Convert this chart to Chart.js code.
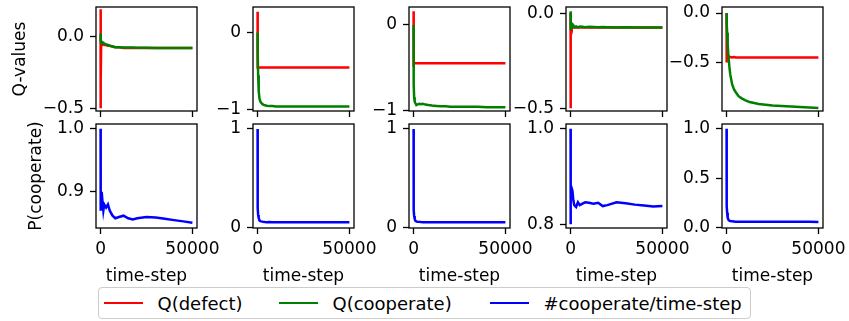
<!DOCTYPE html>
<html>
<head>
<meta charset="utf-8">
<script src="https://cdn.jsdelivr.net/npm/chart.js@4.4.1/dist/chart.umd.min.js"></script>
<style>
body { margin: 0; background: #fff; width: 849px; height: 321px; overflow: hidden; position: relative; font-family: "DejaVu Sans"; }
.panel { position: absolute; }
#legend { position: absolute; left: 98px; top: 287px; width: 653px; height: 32px; box-sizing: border-box;
  border: 1px solid #cccccc; border-radius: 4px; font: 18px "DejaVu Sans"; color: #000; background: #fff; white-space: nowrap; }
#legend .item { position: absolute; top: 0; height: 30px; display: flex; align-items: center; }
#legend .swatch { width: 39px; height: 2.5px; margin-right: 14.5px; flex-shrink: 0; }
</style>
</head>
<body>
<div id="legend"></div>
<script>
// time axis shared by every run
var timeSteps = [0, 20, 40, 60, 100, 300, 600, 1000, 1500, 2000, 3000, 4000, 5000, 6500, 8000, 10000, 12500, 15000, 17500, 20000, 25000, 30000, 35000, 40000, 45000, 50000];

// Q-values, one pair per run
var qDefect1 = [0.0, 0.19, -0.5, 0.12, -0.3, -0.06, -0.05, -0.045, -0.055, -0.06, -0.06, -0.065, -0.065, -0.07, -0.075, -0.075, -0.08, -0.08, -0.08, -0.08, -0.08, -0.08, -0.08, -0.08, -0.08, -0.08];
var qCoop1 = [0.0, 0.02, 0.01, -0.01, -0.03, -0.045, -0.04, -0.05, -0.045, -0.05, -0.055, -0.06, -0.065, -0.07, -0.075, -0.075, -0.077, -0.078, -0.078, -0.079, -0.079, -0.08, -0.08, -0.08, -0.08, -0.08];
var qDefect2 = [0.27, 0.1, -0.46, -0.44, -0.45, -0.45, -0.45, -0.45, -0.45, -0.45, -0.45, -0.45, -0.45, -0.45, -0.45, -0.45, -0.45, -0.45, -0.45, -0.45, -0.45, -0.45, -0.45, -0.45, -0.45, -0.45];
var qCoop2 = [0.0, -0.05, -0.1, -0.15, -0.25, -0.55, -0.75, -0.85, -0.89, -0.91, -0.93, -0.94, -0.945, -0.95, -0.95, -0.955, -0.955, -0.955, -0.955, -0.955, -0.955, -0.955, -0.955, -0.955, -0.955, -0.955];
var qDefect3 = [0.16, -0.2, -0.49, -0.44, -0.45, -0.45, -0.445, -0.45, -0.45, -0.45, -0.45, -0.45, -0.45, -0.45, -0.45, -0.45, -0.45, -0.45, -0.45, -0.45, -0.45, -0.45, -0.45, -0.45, -0.45, -0.45];
var qCoop3 = [0.0, -0.2, -0.4, -0.55, -0.7, -0.85, -0.9, -0.92, -0.94, -0.935, -0.925, -0.93, -0.925, -0.935, -0.94, -0.945, -0.95, -0.955, -0.955, -0.96, -0.96, -0.96, -0.96, -0.965, -0.965, -0.965];
var qDefect4 = [0.0, -0.5, -0.35, -0.15, -0.08, -0.06, -0.07, -0.075, -0.07, -0.075, -0.075, -0.075, -0.075, -0.075, -0.075, -0.075, -0.075, -0.075, -0.075, -0.075, -0.075, -0.075, -0.075, -0.075, -0.075, -0.075];
var qCoop4 = [0.0, 0.01, -0.02, -0.05, -0.09, -0.06, -0.05, -0.07, -0.065, -0.075, -0.07, -0.075, -0.07, -0.072, -0.074, -0.072, -0.073, -0.074, -0.073, -0.074, -0.075, -0.074, -0.075, -0.075, -0.076, -0.076];
var qDefect5 = [0.0, -0.3, -0.5, -0.46, -0.44, -0.45, -0.44, -0.445, -0.44, -0.445, -0.45, -0.445, -0.45, -0.45, -0.45, -0.45, -0.45, -0.45, -0.45, -0.45, -0.45, -0.45, -0.45, -0.45, -0.45, -0.45];
var qCoop5 = [0.0, -0.02, -0.04, -0.06, -0.1, -0.2, -0.32, -0.43, -0.54, -0.62, -0.72, -0.77, -0.8, -0.84, -0.86, -0.88, -0.9, -0.91, -0.92, -0.925, -0.935, -0.94, -0.945, -0.95, -0.955, -0.96];

// fraction of cooperate actions per run
var pCoop1 = [1.0, 0.87, 0.94, 0.9, 0.87, 0.88, 0.9, 0.885, 0.87, 0.88, 0.875, 0.88, 0.87, 0.862, 0.858, 0.86, 0.862, 0.858, 0.856, 0.858, 0.86, 0.859, 0.857, 0.855, 0.853, 0.851];
var pCoop2 = [1.0, 0.6, 0.4, 0.3, 0.2, 0.13, 0.1, 0.075, 0.068, 0.065, 0.06, 0.058, 0.057, 0.058, 0.056, 0.055, 0.055, 0.055, 0.055, 0.055, 0.055, 0.055, 0.055, 0.055, 0.055, 0.055];
var pCoop3 = [1.0, 0.55, 0.35, 0.25, 0.18, 0.12, 0.09, 0.07, 0.065, 0.062, 0.06, 0.058, 0.057, 0.056, 0.056, 0.055, 0.055, 0.055, 0.055, 0.055, 0.055, 0.055, 0.055, 0.055, 0.055, 0.055];
var pCoop4 = [1.0, 0.8, 0.95, 0.9, 0.88, 0.86, 0.875, 0.87, 0.85, 0.84, 0.836, 0.846, 0.84, 0.843, 0.846, 0.845, 0.843, 0.845, 0.838, 0.84, 0.846, 0.844, 0.841, 0.839, 0.837, 0.838];
var pCoop5 = [1.0, 0.6, 0.4, 0.3, 0.22, 0.15, 0.1, 0.08, 0.072, 0.068, 0.064, 0.062, 0.06, 0.06, 0.06, 0.06, 0.06, 0.06, 0.06, 0.06, 0.06, 0.06, 0.06, 0.059, 0.059, 0.058];

var seriesLabels = ['Q(defect)', 'Q(cooperate)', '#cooperate/time-step'];

var xTickValues = [0, 50000];
var xTickLabels = ['0', '50000'];
var qTickValues = [[-0.5, 0], [-1, 0], [-1, 0], [-0.5, 0], [-0.5, 0]];
var qTickLabels = [['\u22120.5', '0.0'], ['\u22121', '0'], ['\u22121', '0'], ['\u22120.5', '0.0'], ['\u22120.5', '0.0']];
var pTickValues = [[0.9, 1], [0, 1], [0, 1], [0.8, 1], [0, 0.5, 1]];
var pTickLabels = [['0.9', '1.0'], ['0', '1'], ['0', '1'], ['0.8', '1.0'], ['0.0', '0.5', '1.0']];
var qRanges = [[-0.52, 0.205], [-1.013, 0.33], [-1.01, 0.21], [-0.514, 0.032], [-0.99, 0.061]];
var pRanges = [[0.8425, 1.0075], [-0.002, 1.05], [-0.002, 1.05], [0.792, 1.01], [-0.003, 1.047]];

var colors = { defect: '#ff0000', coop: '#008000', p: '#0000ff' };
var boxLeft = [96, 253, 409, 566, 722];
var boxTop = [7, 124];
var boxW = 101, boxH = 104;
var legendItemLeft = [5, 180, 391];

Chart.defaults.font.family = "'DejaVu Sans'";
Chart.defaults.font.size = 17;
Chart.defaults.color = '#000';

var framePlugin = {
    id: 'frame',
    afterDatasetsDraw: function (chart) {
        var a = chart.chartArea, ctx = chart.ctx;
        ctx.save();
        ctx.strokeStyle = '#000';
        ctx.lineWidth = 1.3;
        ctx.strokeRect(a.left, a.top, a.right - a.left, a.bottom - a.top);
        ctx.restore();
    }
};

function toPoints(values) {
    return timeSteps.map(function (t, i) { return { x: t, y: values[i] }; });
}

function addPanel(col, row, datasets, range, tickValues, tickLabels) {
    var lm = col === 0 ? boxLeft[0] : 60;
    var tm = 15, rm = 40;
    var bm = row === 0 ? 12 : 65;
    var w = lm + boxW + rm, h = tm + boxH + bm;

    var div = document.createElement('div');
    div.className = 'panel';
    div.style.left = (boxLeft[col] - lm) + 'px';
    div.style.top = (boxTop[row] - tm) + 'px';
    var canvas = document.createElement('canvas');
    canvas.width = w; canvas.height = h;
    canvas.style.width = w + 'px'; canvas.style.height = h + 'px';
    div.appendChild(canvas);
    document.body.appendChild(div);

    new Chart(canvas, {
        type: 'line',
        data: { datasets: datasets },
        plugins: [framePlugin],
        options: {
            responsive: false,
            animation: false,
            devicePixelRatio: 1,
            events: [],
            layout: { padding: { top: tm, right: rm, left: 0, bottom: 0 } },
            elements: { point: { radius: 0 }, line: { tension: 0, borderWidth: 2.5 } },
            plugins: { legend: { display: false }, tooltip: { enabled: false } },
            scales: {
                x: {
                    type: 'linear',
                    min: -2500, max: 52500,
                    border: { display: false },
                    grid: { drawOnChartArea: false, drawTicks: true, tickLength: 6, tickWidth: 1.3, tickColor: '#000' },
                    ticks: {
                        display: row === 1, padding: 5, maxRotation: 0, autoSkip: false,
                        callback: function (v) { return xTickLabels[xTickValues.indexOf(v)]; }
                    },
                    title: { display: row === 1, text: 'time-step', padding: { top: 0, bottom: 6 } },
                    afterBuildTicks: function (s) { s.ticks = xTickValues.map(function (v) { return { value: v }; }); },
                    afterFit: function (s) { s.height = bm; s.paddingLeft = 0; s.paddingRight = 0; s.paddingTop = 0; s.paddingBottom = 0; }
                },
                y: {
                    min: range[0], max: range[1],
                    border: { display: false },
                    grid: { drawOnChartArea: false, drawTicks: true, tickLength: 6, tickWidth: 1.3, tickColor: '#000' },
                    ticks: {
                        padding: 6, autoSkip: false,
                        callback: function (v) { return tickLabels[tickValues.indexOf(v)]; }
                    },
                    title: {
                        display: col === 0,
                        text: row === 0 ? 'Q-values' : 'P(cooperate)',
                        padding: { top: row === 0 ? 10 : 26, bottom: 0 }
                    },
                    afterBuildTicks: function (s) { s.ticks = tickValues.map(function (v) { return { value: v }; }); },
                    afterFit: function (s) { s.width = lm; s.paddingLeft = 0; s.paddingRight = 0; s.paddingTop = 0; s.paddingBottom = 0; }
                }
            }
        }
    });
}

var qDefectRuns = [qDefect1, qDefect2, qDefect3, qDefect4, qDefect5];
var qCoopRuns = [qCoop1, qCoop2, qCoop3, qCoop4, qCoop5];
var pCoopRuns = [pCoop1, pCoop2, pCoop3, pCoop4, pCoop5];

for (var c = 0; c < 5; c++) {
    addPanel(c, 0, [
        { label: seriesLabels[0], data: toPoints(qDefectRuns[c]), borderColor: colors.defect, order: 2 },
        { label: seriesLabels[1], data: toPoints(qCoopRuns[c]), borderColor: colors.coop, order: 1 }
    ], qRanges[c], qTickValues[c], qTickLabels[c]);
    addPanel(c, 1, [
        { label: seriesLabels[2], data: toPoints(pCoopRuns[c]), borderColor: colors.p }
    ], pRanges[c], pTickValues[c], pTickLabels[c]);
}

// legend below the grid
var legend = document.getElementById('legend');
[colors.defect, colors.coop, colors.p].forEach(function (col, i) {
    var item = document.createElement('span');
    item.className = 'item';
    item.style.left = legendItemLeft[i] + 'px';
    var sw = document.createElement('span');
    sw.className = 'swatch';
    sw.style.background = col;
    item.appendChild(sw);
    item.appendChild(document.createTextNode(seriesLabels[i]));
    legend.appendChild(item);
});
</script>
</body>
</html>
